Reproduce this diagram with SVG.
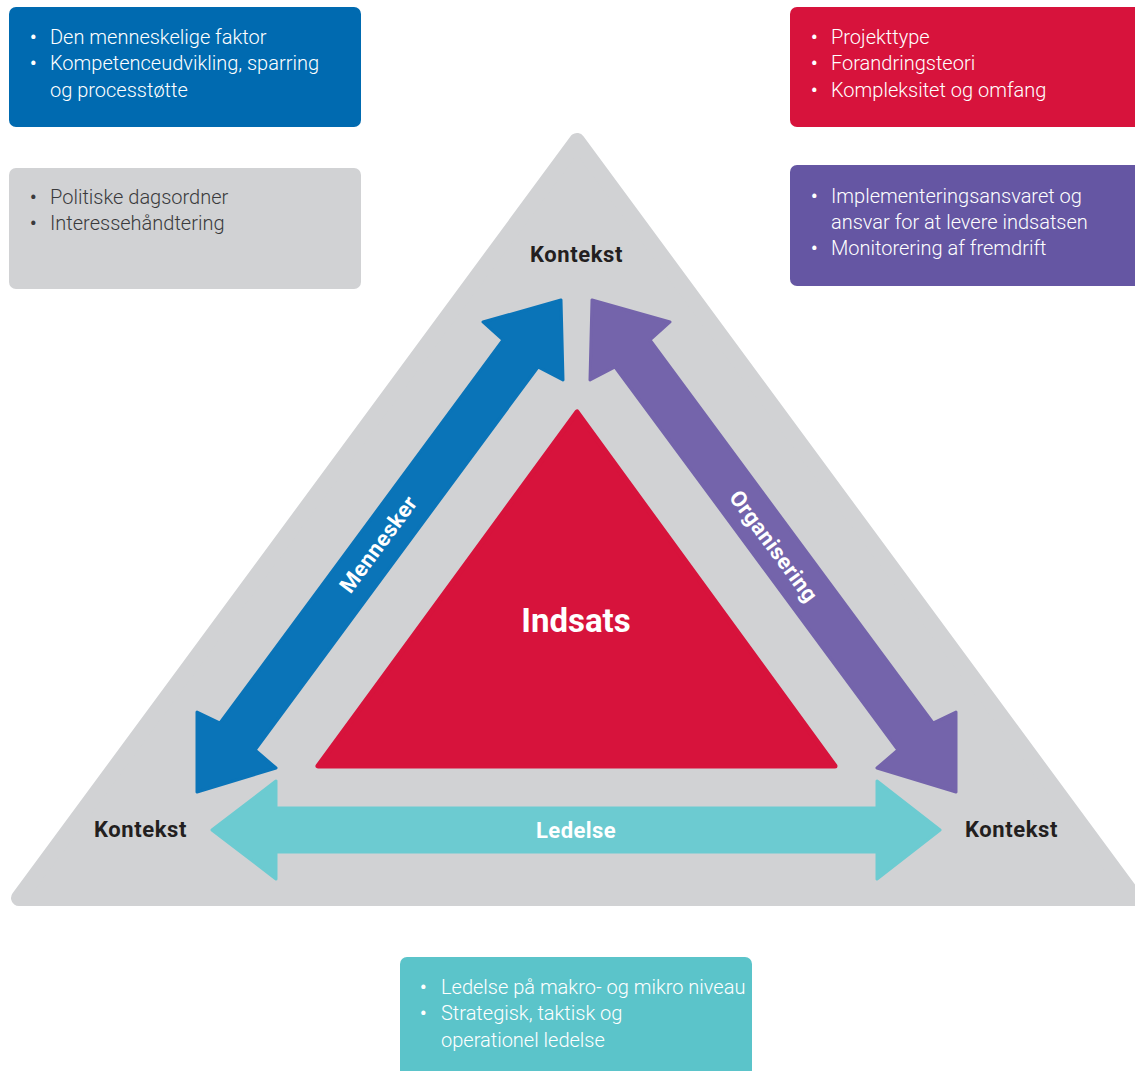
<svg xmlns="http://www.w3.org/2000/svg" width="1135" height="1071" viewBox="0 0 1135 1071">
<style>
.bl{font-family:Roboto,"Liberation Sans",sans-serif;font-weight:300;font-size:20px;fill:#ffffff}
.bu{font-weight:700;font-size:18px}
.dk{fill:#3a3a3c}
.lab{font-family:Roboto,"Liberation Sans",sans-serif;font-weight:700;font-size:22px;letter-spacing:0.6px;fill:#231f20;text-anchor:middle}
.arl{font-family:Roboto,"Liberation Sans",sans-serif;font-weight:700;font-size:22px;letter-spacing:0.4px;fill:#ffffff;text-anchor:middle}
</style>
<rect width="1135" height="1071" fill="#ffffff"/>
<g id="context-triangle">
<polygon points="577,141 19,898 1135,898" fill="#d1d2d4" stroke="#d1d2d4" stroke-width="16" stroke-linejoin="round"/>
<text class="lab" x="576.5" y="262">Kontekst</text>
<text class="lab" x="140.5" y="837">Kontekst</text>
<text class="lab" x="1011.5" y="837">Kontekst</text>
</g>
<g id="indsats">
<polygon points="577,412 318,766 835,766" fill="#d7133c" stroke="#d7133c" stroke-width="5" stroke-linejoin="round"/>
<text x="576" y="632" font-family="Roboto,'Liberation Sans',sans-serif" font-weight="700" font-size="33" fill="#ffffff" text-anchor="middle">Indsats</text>
</g>
<g id="connectors">
<g id="mennesker">
<polygon points="561,300 563,380 538,367 255,750 276,768 197,792 197,712 220,723 503,340 483,322" fill="#0a74b8" stroke="#0a74b8" stroke-width="3" stroke-linejoin="round"/>
<text class="arl" transform="translate(378,544) rotate(-53.5)" y="8">Mennesker</text>
</g>
<g id="organisering">
<polygon points="592,300 590,380 615,367 898,750 877,768 956,792 956,712 933,723 650,340 670,322" fill="#7464ab" stroke="#7464ab" stroke-width="3" stroke-linejoin="round"/>
<text class="arl" transform="translate(774,546) rotate(53.5)" y="8">Organisering</text>
</g>
<g id="ledelse">
<polygon points="212,830 276,781 276,808 877,808 877,781 940,830 877,879 877,852 276,852 276,879" fill="#6ccbd1" stroke="#6ccbd1" stroke-width="3" stroke-linejoin="round"/>
<text class="arl" x="576" y="838">Ledelse</text>
</g>
</g>
<g id="box-mennesker">
<rect x="9" y="7" width="352" height="120" rx="7" fill="#006ab0"/>
<text class="bl"><tspan class="bu" x="30" y="44">•</tspan><tspan x="50" y="44">Den menneskelige faktor</tspan><tspan class="bu" x="30" y="70">•</tspan><tspan x="50" y="70">Kompetenceudvikling, sparring</tspan><tspan x="50" y="97">og processtøtte</tspan></text>
</g>
<g id="box-kontekst">
<rect x="9" y="168" width="352" height="121" rx="7" fill="#d1d2d4"/>
<text class="bl dk"><tspan class="bu" x="30" y="204">•</tspan><tspan x="50" y="204">Politiske dagsordner</tspan><tspan class="bu" x="30" y="230">•</tspan><tspan x="50" y="230">Interessehåndtering</tspan></text>
</g>
<g id="box-indsats">
<rect x="790" y="7" width="360" height="120" rx="7" fill="#d7133c"/>
<text class="bl"><tspan class="bu" x="811" y="44">•</tspan><tspan x="831" y="44">Projekttype</tspan><tspan class="bu" x="811" y="70">•</tspan><tspan x="831" y="70">Forandringsteori</tspan><tspan class="bu" x="811" y="97">•</tspan><tspan x="831" y="97">Kompleksitet og omfang</tspan></text>
</g>
<g id="box-organisering">
<rect x="790" y="165" width="360" height="121" rx="7" fill="#6556a3"/>
<text class="bl"><tspan class="bu" x="811" y="203">•</tspan><tspan x="831" y="203">Implementeringsansvaret og</tspan><tspan x="831" y="229">ansvar for at levere indsatsen</tspan><tspan class="bu" x="811" y="255">•</tspan><tspan x="831" y="255">Monitorering af fremdrift</tspan></text>
</g>
<g id="box-ledelse">
<rect x="400" y="957" width="352" height="130" rx="7" fill="#5bc4ca"/>
<text class="bl"><tspan class="bu" x="420" y="994">•</tspan><tspan x="441" y="994">Ledelse på makro- og mikro niveau</tspan><tspan class="bu" x="420" y="1020">•</tspan><tspan x="441" y="1020">Strategisk, taktisk og</tspan><tspan x="441" y="1047">operationel ledelse</tspan></text>
</g>
</svg>
